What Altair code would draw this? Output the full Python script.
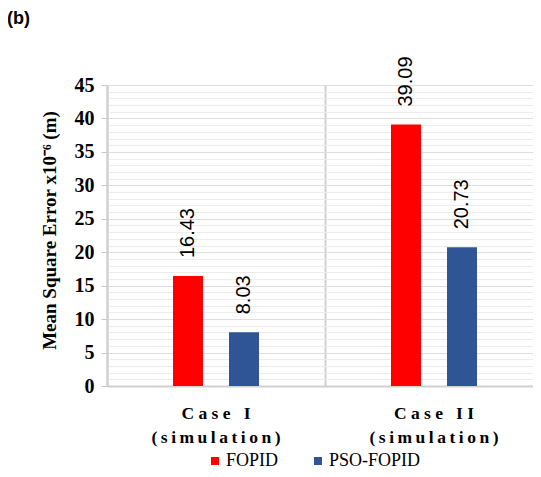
import altair as alt
import pandas as pd

categories = ["Case I", "Case II"]
subtitle = "(simulation)"
series = ["FOPID", "PSO-FOPID"]
fopid = [16.43, 39.09]
pso_fopid = [8.03, 20.73]
colors = ["#FF0000", "#2F5597"]
y_grid_values = list(range(0, 46))

rows = []
for i, c in enumerate(categories):
    rows.append({"case": c, "method": series[0], "mse": fopid[i]})
    rows.append({"case": c, "method": series[1], "mse": pso_fopid[i]})
df = pd.DataFrame(rows)

NBSP = "\u00a0"
THIN = "\u2009"
label_expr = (
    "[join(split(datum.label, ''), '" + NBSP + "'), "
    "join(split('" + subtitle + "', ''), '" + THIN + "')]"
)

x_enc = alt.X(
    "case:N",
    sort=categories,
    scale=alt.Scale(range=[0, 436], paddingInner=0, paddingOuter=0),
    axis=alt.Axis(
        title=None, labelAngle=0, ticks=False,
        domainColor="#d0d0d0", domainWidth=2,
        grid=True, gridColor="#d0d0d0", gridWidth=2, bandPosition=0,
        labelExpr=label_expr,
        labelFont="Liberation Serif", labelFontWeight="bold", labelFontSize=17.5,
        labelLineHeight=24, labelPadding=18, labelColor="black",
    ),
)
xoff = alt.XOffset("method:N", sort=series,
                   scale=alt.Scale(paddingInner=0.107, paddingOuter=1))
y_enc = alt.Y(
    "mse:Q",
    scale=alt.Scale(domain=[0, 45], nice=False),
    axis=alt.Axis(
        title="Mean Square Error x10⁻⁶ (m)",
        values=y_grid_values,
        labelExpr="datum.value % 5 == 0 ? datum.label : ''",
        labelOverlap=False,
        grid=True,
        gridColor={"condition": {"test": "datum.value % 5 == 0", "value": "#dedede"}, "value": "#ececec"},
        tickOpacity={"condition": {"test": "datum.value % 5 == 0", "value": 1}, "value": 0},
        tickSize=6, tickColor="#c8c8c8",
        domainColor="#d0d0d0", domainWidth=2,
        labelFont="Liberation Serif", labelFontWeight="bold", labelFontSize=20,
        labelPadding=7, labelColor="black",
        titleFont="Liberation Serif", titleFontWeight="bold", titleFontSize=19,
        titlePadding=15, titleColor="black", titleY=145,
    ),
)
color = alt.Color(
    "method:N", sort=series,
    scale=alt.Scale(domain=series, range=colors),
    legend=alt.Legend(
        title=None, orient="none", direction="horizontal",
        legendX=99, legendY=367, padding=0,
        symbolType="square", symbolSize=64, symbolStrokeWidth=0,
        labelFont="Liberation Serif", labelFontSize=18, labelColor="black",
        labelOffset=2, columnPadding=30,
    ),
)

bars = alt.Chart(df).mark_bar(width=30).encode(x=x_enc, xOffset=xoff, y=y_enc, color=color)
labels = alt.Chart(df).mark_text(
    angle=270, align="left", baseline="middle", dx=18,
    font="Liberation Sans", fontSize=20, color="black",
).encode(x=x_enc, xOffset=xoff, y=y_enc, text=alt.Text("mse:Q", format=".2f"))

chart = alt.layer(bars, labels).properties(
    width=426, height=301,
    title=alt.Title("(b)", anchor="start", frame="group", dx=-100, offset=28,
                    font="Liberation Sans", fontWeight="bold", fontSize=18, color="black"),
    autosize=alt.AutoSizeParams(type="none"),
    padding={"left": 99, "top": 77, "right": 0, "bottom": 83},
).configure_view(stroke=None).configure(background="white")

chart.save("out.html", embed_options={"renderer": "svg", "actions": False})
